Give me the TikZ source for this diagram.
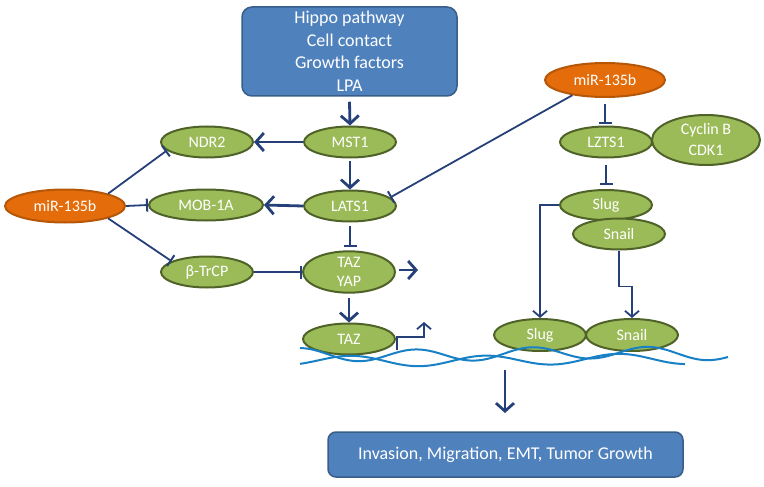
\documentclass[tikz,border=0pt]{standalone}
\usepackage{fontspec}
\setmainfont{Carlito}
\usetikzlibrary{arrows.meta, shapes.geometric}

\definecolor{boxblue}{RGB}{79,129,189}
\definecolor{boxedge}{RGB}{56,93,138}
\definecolor{genefill}{RGB}{155,187,89}
\definecolor{geneedge}{RGB}{79,98,40}
\definecolor{mirfill}{RGB}{228,108,10}
\definecolor{miredge}{RGB}{182,87,8}
\definecolor{linkblue}{RGB}{37,64,120}
\definecolor{dnablue}{RGB}{24,128,196}

\tikzset{
    gene/.style={ellipse, draw=geneedge, line width=2pt, fill=genefill,
        text=white, inner sep=0pt, minimum width=92pt, minimum height=31pt,
        font=\fontsize{16}{17}\selectfont, align=center},
    mir/.style={gene, draw=miredge, fill=mirfill, minimum width=120pt, minimum height=33pt},
    bluebox/.style={draw=boxedge, line width=1.5pt, fill=boxblue, rounded corners=10pt,
        text=white, align=center},
    act/.style={draw=linkblue, line width=2.8pt, -{Straight Barb[length=8pt, width=18pt]}},
    thinact/.style={draw=linkblue, line width=1.8pt, -{Straight Barb[length=6pt, width=14pt]}},
    inh/.style={draw=linkblue, line width=1.8pt, -{Bar[width=13pt, line width=2pt]}},
    dna/.style={draw=dnablue, line width=2pt}
}

\begin{document}
\begin{tikzpicture}[x=1pt, y=-1pt]
    \useasboundingbox (0,0) rectangle (764,487);

    % Upstream signals
    \node[bluebox, minimum width=215pt, minimum height=89pt,
          font=\fontsize{18}{22.5}\selectfont] (hippo) at (349.5,51.5)
          {Hippo pathway\\Cell contact\\Growth factors\\LPA};

    % Hippo core
    \node[gene] (mst) at (350,142) {MST1};
    \node[gene] (ndr) at (207,142) {NDR2};
    \node[gene] (lats) at (350,206) {LATS1};
    \node[gene, minimum width=114pt] (mob) at (206,205) {MOB-1A};
    \node[gene] (btrcp) at (207,272) {β-TrCP};
    \node[gene, minimum height=38pt, font=\fontsize{16}{19}\selectfont] (tazyap) at (349,272) {TAZ\\YAP};
    \node[gene] (taz) at (349,339) {TAZ};

    % miR-135b, left
    \node[mir] (mirL) at (65,206) {miR-135b};

    % miR-135b, right branch
    \node[mir, minimum height=34pt] (mirR) at (605,80) {miR-135b};
    \node[gene] (lzts) at (606,142) {LZTS1};
    \node[gene, minimum width=108pt, minimum height=50pt, font=\fontsize{16}{21}\selectfont]
          (cyclin) at (706,140) {Cyclin B\\CDK1};
    \node[gene, minimum height=30pt] (slugT) at (606,205) {Slug};
    \node[gene] (snailT) at (619,234) {Snail};
    \node[gene, minimum height=32pt] (slugB) at (540,335) {Slug};
    \node[gene, minimum height=32pt] (snailB) at (632,335) {Snail};

    % Outcome
    \node[bluebox, minimum width=355pt, minimum height=45pt, rounded corners=8pt,
          font=\fontsize{18}{20}\selectfont] (outcome) at (505.5,454.5)
          {Invasion, Migration, EMT, Tumor Growth};

    % Activations
    \draw[act] (hippo.south) ++(0,5) -- (mst.north);
    \draw[act] (mst.west) -- (ndr.east);
    \draw[act] (mst) ++(0,19) -- (lats.north);
    \draw[act] (lats.west) -- (mob.east);
    \draw[act] (tazyap.east) ++(3,-2) -- ++(19,0);
    \draw[act] (tazyap.south) ++(0,4) -- (taz.north);
    \draw[act] (505,370) -- ++(0,43);

    % Inhibitions
    \draw[inh] (mirL.north east) -- (ndr.192);
    \draw[inh] (mirL.east) -- (mob.west);
    \draw[inh] (mirL.south east) -- (btrcp.163);
    \draw[inh] (btrcp.east) -- (tazyap.west);
    \draw[inh] (lats.south) ++(0,3) -- ++(0,21);
    \draw[inh] (mirR.205) -- (lats.12);
    \draw[inh] (mirR.south) ++(0,6) -- ++(0,20);
    \draw[inh] (lzts.south) ++(0,6) -- ++(0,20);

    % Transcription
    \draw[thinact] (taz.east) ++(1,11) -- ++(0,-13) -- ++(27,0) -- ++(0,-15);
    \draw[thinact] (slugT.west) -| (slugB.north);
    \draw[thinact] (snailT.south) -- ++(0,36) -| (snailB.north);

    % DNA
    \draw[dna] plot[smooth, domain=300:728, samples=90]
        (\x, {354-6*cos((\x-300)*3.1)+1.5*sin((\x-300)*0.9)});
    \draw[dna] plot[smooth, domain=300:685, samples=90]
        (\x, {360+5*cos((\x-300)*2.7+40)+1.2*sin((\x-300)*0.8)});
\end{tikzpicture}
\end{document}
